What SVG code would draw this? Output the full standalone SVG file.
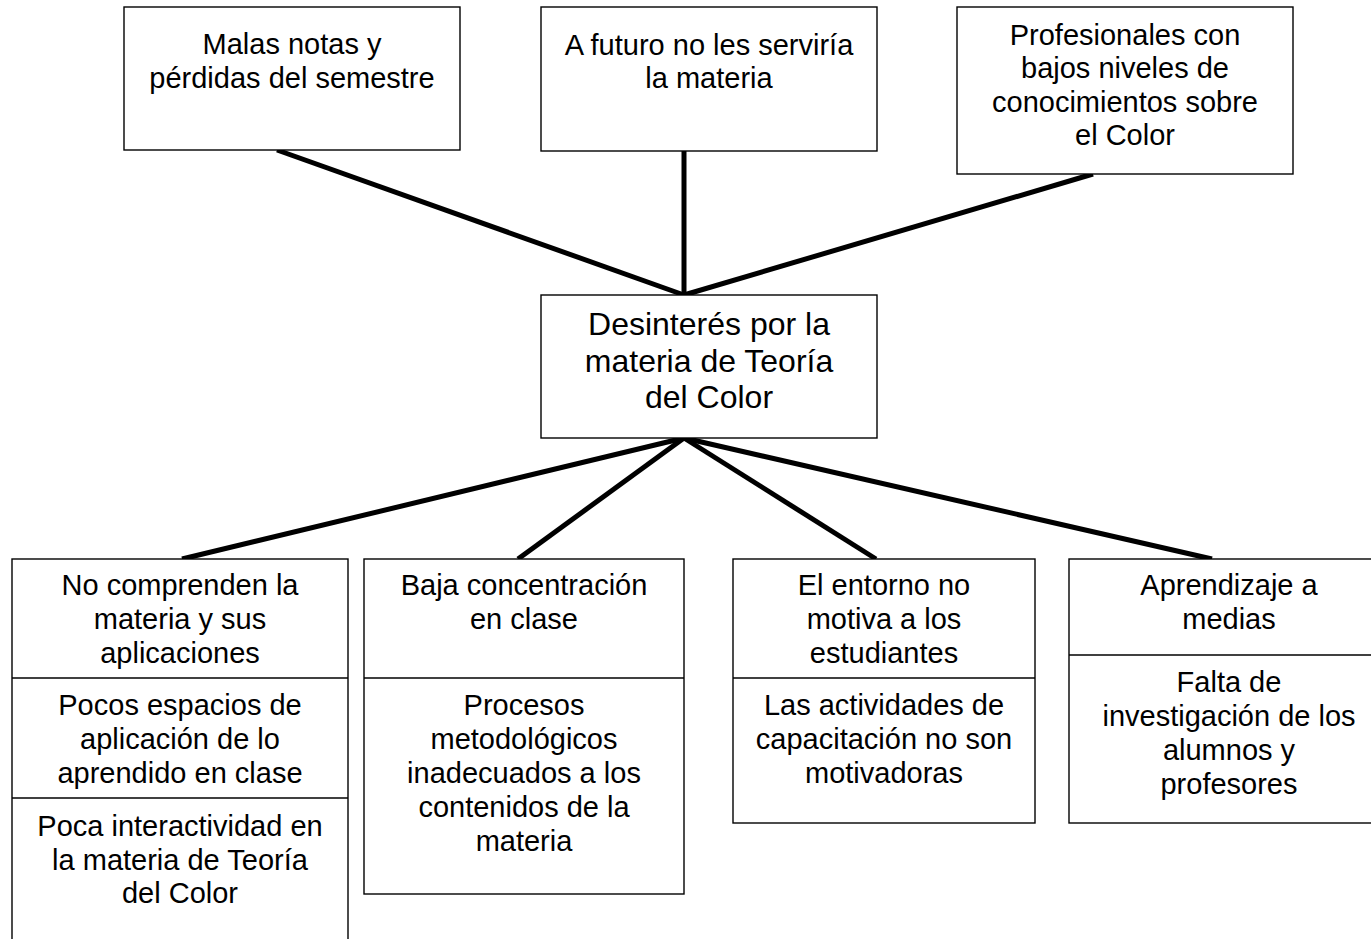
<svg xmlns="http://www.w3.org/2000/svg" width="1371" height="939" viewBox="0 0 1371 939">
<style>
.box{fill:#fff;stroke:#000;stroke-width:1.4}
.div{stroke:#000;stroke-width:1.4}
.t{font-family:"Liberation Sans",Arial,sans-serif;font-size:29px;fill:#000;text-anchor:middle}
.c{font-size:32px}
.con{stroke:#000;stroke-width:5;fill:none}
</style>
<rect width="1371" height="939" fill="#fff"/>
<g id="connectors">
<line class="con" x1="277" y1="150" x2="684" y2="295"/>
<line class="con" x1="684" y1="151" x2="684" y2="295"/>
<line class="con" x1="1093" y1="174" x2="684" y2="295"/>
<line class="con" x1="684" y1="438" x2="182" y2="559"/>
<line class="con" x1="684" y1="438" x2="518" y2="559"/>
<line class="con" x1="684" y1="438" x2="876" y2="559"/>
<line class="con" x1="684" y1="438" x2="1212" y2="559"/>
</g>
<g id="top1">
<rect class="box" x="124" y="7" width="336" height="143"/>
<text class="t" x="292" y="54">Malas notas y</text>
<text class="t" x="292" y="88">pérdidas del semestre</text>
</g>
<g id="top2">
<rect class="box" x="541" y="7" width="336" height="144"/>
<text class="t" x="709" y="55">A futuro no les serviría</text>
<text class="t" x="709" y="88">la materia</text>
</g>
<g id="top3">
<rect class="box" x="957" y="7" width="336" height="167"/>
<text class="t" x="1125" y="45">Profesionales con</text>
<text class="t" x="1125" y="78">bajos niveles de</text>
<text class="t" x="1125" y="112">conocimientos sobre</text>
<text class="t" x="1125" y="145">el Color</text>
</g>
<g id="center">
<rect class="box" x="541" y="295" width="336" height="143"/>
<text class="t c" x="709" y="335">Desinterés por la</text>
<text class="t c" x="709" y="372">materia de Teoría</text>
<text class="t c" x="709" y="408">del Color</text>
</g>
<g id="bottom1">
<rect class="box" x="12" y="559" width="336" height="420"/>
<line class="div" x1="12" y1="678" x2="348" y2="678"/>
<line class="div" x1="12" y1="798" x2="348" y2="798"/>
<text class="t" x="180" y="595">No comprenden la</text>
<text class="t" x="180" y="629">materia y sus</text>
<text class="t" x="180" y="663">aplicaciones</text>
<text class="t" x="180" y="715">Pocos espacios de</text>
<text class="t" x="180" y="749">aplicación de lo</text>
<text class="t" x="180" y="783">aprendido en clase</text>
<text class="t" x="180" y="836">Poca interactividad en</text>
<text class="t" x="180" y="870">la materia de Teoría</text>
<text class="t" x="180" y="903">del Color</text>
</g>
<g id="bottom2">
<rect class="box" x="364" y="559" width="320" height="335"/>
<line class="div" x1="364" y1="678" x2="684" y2="678"/>
<text class="t" x="524" y="595">Baja concentración</text>
<text class="t" x="524" y="629">en clase</text>
<text class="t" x="524" y="715">Procesos</text>
<text class="t" x="524" y="749">metodológicos</text>
<text class="t" x="524" y="783">inadecuados a los</text>
<text class="t" x="524" y="817">contenidos de la</text>
<text class="t" x="524" y="851">materia</text>
</g>
<g id="bottom3">
<rect class="box" x="733" y="559" width="302" height="264"/>
<line class="div" x1="733" y1="678" x2="1035" y2="678"/>
<text class="t" x="884" y="595">El entorno no</text>
<text class="t" x="884" y="629">motiva a los</text>
<text class="t" x="884" y="663">estudiantes</text>
<text class="t" x="884" y="715">Las actividades de</text>
<text class="t" x="884" y="749">capacitación no son</text>
<text class="t" x="884" y="783">motivadoras</text>
</g>
<g id="bottom4">
<rect class="box" x="1069" y="559" width="320" height="264"/>
<line class="div" x1="1069" y1="655" x2="1389" y2="655"/>
<text class="t" x="1229" y="595">Aprendizaje a</text>
<text class="t" x="1229" y="629">medias</text>
<text class="t" x="1229" y="692">Falta de</text>
<text class="t" x="1229" y="726">investigación de los</text>
<text class="t" x="1229" y="760">alumnos y</text>
<text class="t" x="1229" y="794">profesores</text>
</g>
</svg>
